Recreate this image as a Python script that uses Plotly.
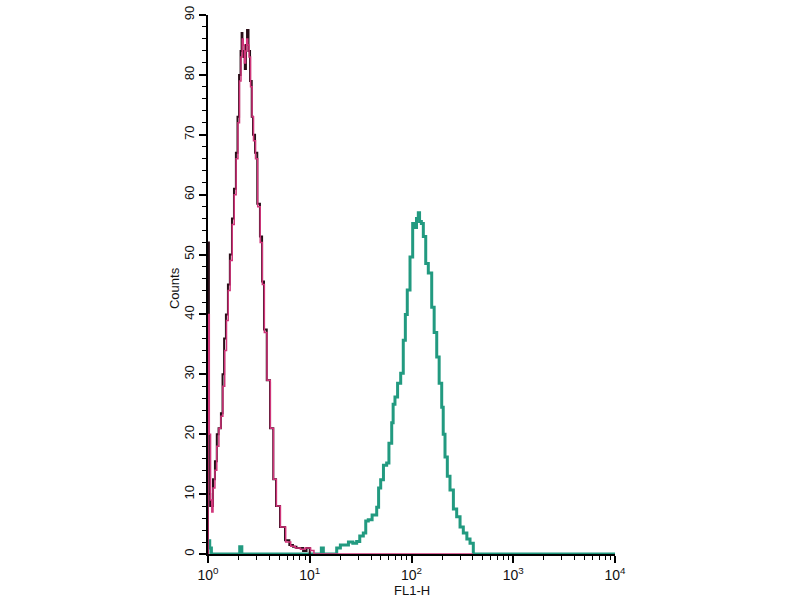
import plotly.graph_objects as go

# FL1-H channel (log scale) and counts
# black histogram (control)
BLACK_X = [1.0, 1.0, 1.02, 1.02, 1.05, 1.09, 1.12, 1.17, 1.22, 1.27, 1.34, 1.39, 1.44, 1.50, 1.57,
           1.64, 1.72, 1.80, 1.88, 1.95, 2.02, 2.09, 2.14, 2.18, 2.24, 2.30, 2.36, 2.42, 2.50,
           2.59, 2.69, 2.77, 2.90, 3.05, 3.24, 3.40, 3.55, 3.78, 4.07, 4.38, 4.66, 5.10,
           5.71, 6.30, 6.85, 7.40, 8.02, 8.60, 9.30, 10.0]
BLACK_Y = [0, 52, 52, 10, 8, 8, 12.5, 15.5, 20, 21, 23.5, 30, 36, 40, 45,
           50, 56, 61, 67, 73, 80, 84, 87, 84, 83, 81, 85, 87.5, 84,
           79, 73, 70, 67, 58.5, 53, 45.5, 37.5, 29, 21, 12.5, 8, 4.5,
           2.3, 1.5, 1.2, 1.0, 1.0, 0.5, 1.0, 0]

# magenta histogram (isotype), nearly on top of the black one
MAG_X = [1.0, 1.0, 1.03, 1.06, 1.09, 1.12, 1.17, 1.22, 1.28, 1.34, 1.40, 1.46, 1.52, 1.58,
         1.65, 1.73, 1.81, 1.89, 1.97, 2.04, 2.11, 2.17, 2.22, 2.28, 2.34, 2.40, 2.46, 2.53,
         2.62, 2.71, 2.80, 2.93, 3.08, 3.26, 3.42, 3.58, 3.80, 4.10, 4.40, 4.70, 5.15,
         5.80, 6.50, 7.20, 8.10, 9.00, 10.2, 11.0, 400.0]
MAG_Y = [0, 40, 20, 9, 7, 11, 14, 18, 21, 23, 28, 34, 39, 44,
         49, 55, 60, 66, 72, 79, 83, 86, 85, 82, 84, 86, 85, 83,
         78, 73, 69, 66, 58, 52, 45, 37, 29, 21, 12.5, 8, 4.5,
         2.0, 1.3, 1.0, 0.8, 1.0, 0.6, 0, 0]

# green histogram (stained sample)
GREEN_X = [1.0, 1.0, 1.04, 1.08, 1.5, 1.95, 2.05, 2.15, 3.0, 10.0, 12.5, 13.0, 13.6, 16.0, 18.4,
           20.0, 21.4, 24.0, 26.5, 28.9, 31.0, 33.6, 35.5, 37.6, 41.0, 45.5, 47.5, 49.8, 53.0,
           57.0, 60.0, 63.9, 66.0, 68.8, 73.0, 78.3, 83.0, 87.0, 90.9, 96.7, 102.7, 107.0,
           112.0, 116.7, 120.0, 125.0, 130.7, 138.0, 146.3, 158.0, 167.0, 177.0, 187.0,
           198.1, 205.0, 213.4, 225.0, 239.0, 258.0, 278.0, 300.0, 323.0, 350.0, 376.0,
           405.0, 10000.0]
GREEN_Y = [0, 2.2, 1.0, 0, 0, 0, 1.2, 0, 0, 0, 0, 1.0, 0, 0, 1.0,
           1.5, 1.5, 2.0, 1.8, 2.1, 3.0, 3.5, 5.5, 5.7, 6.5, 7.8, 11.0, 12.4, 14.8,
           15.2, 18.5, 21.9, 25.0, 26.2, 28.5, 30.2, 35.7, 40.0, 44.1, 49.6, 55.2, 54.5,
           56.0, 57.0, 55.5, 55.2, 53.0, 48.5, 46.9, 41.2, 37.0, 32.9, 28.5,
           24.5, 20.0, 16.2, 13.0, 10.7, 7.5, 6.2, 4.5, 3.5, 2.5, 1.8,
           0, 0]

Y_TICKS = [0, 10, 20, 30, 40, 50, 60, 70, 80, 90]
X_TICKS = [1, 10, 100, 1000, 10000]
X_TICK_TEXT = ["10<sup>0</sup>", "10<sup>1</sup>", "10<sup>2</sup>", "10<sup>3</sup>", "10<sup>4</sup>"]

FONT = "Liberation Sans, Arial"

fig = go.Figure()

fig.add_trace(go.Scatter(x=GREEN_X, y=GREEN_Y, mode="lines", line_shape="hv",
                         line=dict(color="#229a80", width=3), name="stained"))
fig.add_trace(go.Scatter(x=BLACK_X, y=BLACK_Y, mode="lines", line_shape="hv",
                         line=dict(color="#2a0d18", width=2), name="control"))
fig.add_trace(go.Scatter(x=MAG_X, y=MAG_Y, mode="lines", line_shape="hv",
                         line=dict(color="#d0357a", width=1.5), name="isotype"))

fig.update_xaxes(
    type="log", range=[0, 4], automargin=False,
    tickvals=X_TICKS, ticktext=X_TICK_TEXT,
    ticks="outside", ticklen=7, tickwidth=1.5, tickcolor="black",
    minor=dict(ticks="outside", ticklen=4, tickwidth=1.2, tickcolor="black", dtick="D1"),
    showline=True, linecolor="black", linewidth=2,
    showgrid=False, zeroline=False,
    tickfont=dict(family=FONT, size=14, color="#111"),
)
fig.update_yaxes(
    range=[0, 90], automargin=False,
    tickvals=Y_TICKS,
    tickangle=-90,
    ticks="outside", ticklen=7, tickwidth=1.5, tickcolor="black",
    minor=dict(ticks="outside", ticklen=4, tickwidth=1.2, tickcolor="black", dtick=2),
    showline=True, linecolor="black", linewidth=2,
    showgrid=False, zeroline=False,
    tickfont=dict(family=FONT, size=13, color="#111"),
)

fig.add_annotation(text="Counts", xref="paper", yref="paper", x=-0.0835, y=0.4935,
                   xanchor="center", yanchor="middle",
                   textangle=-90, showarrow=False,
                   font=dict(family=FONT, size=13, color="#111"))
fig.add_annotation(text="FL1-H", xref="paper", yref="paper", x=0.5, y=-0.0686,
                   xanchor="center", yanchor="middle", showarrow=False,
                   font=dict(family=FONT, size=13, color="#111"))

fig.update_layout(
    width=800, height=600,
    margin=dict(l=208, r=185, t=15, b=46),
    plot_bgcolor="white", paper_bgcolor="white",
    showlegend=False,
)

fig.write_html(
    "out.html",
    config={"displayModeBar": False},
    post_script="document.documentElement.style.overflow='hidden';"
                "document.body.style.margin='0';document.body.style.overflow='hidden';",
)
